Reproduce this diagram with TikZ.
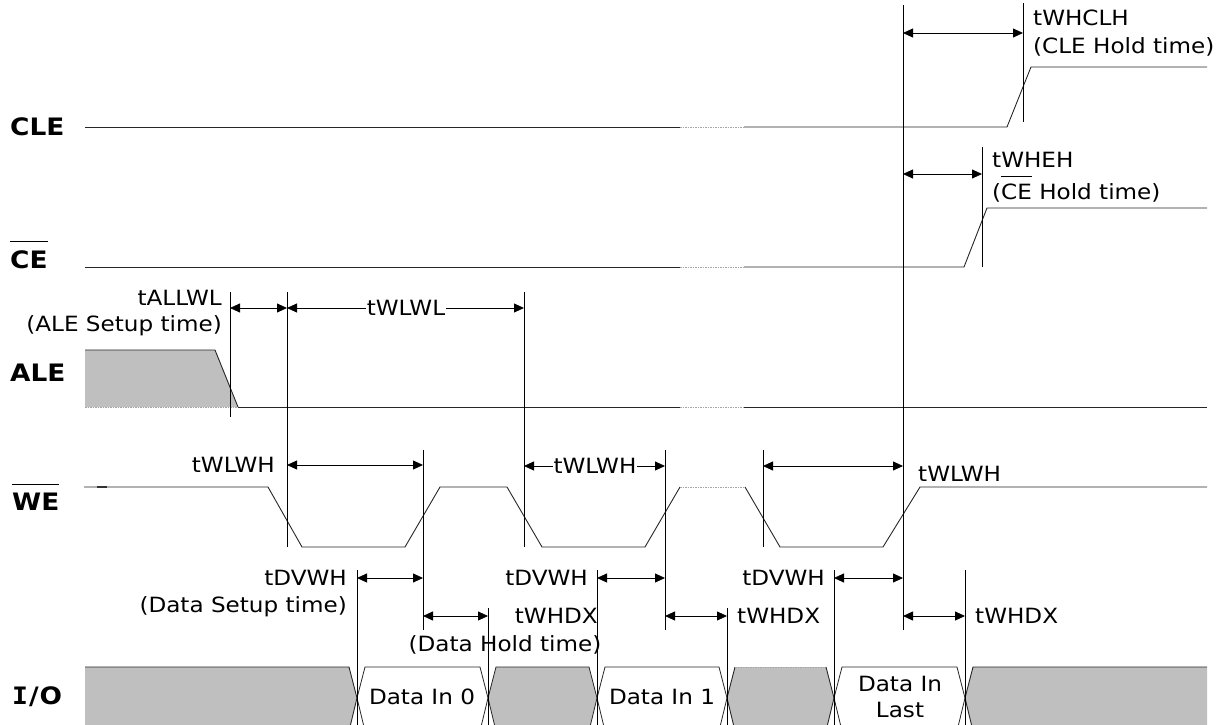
\documentclass[tikz,border=0pt]{standalone}
\usepackage{fontspec}
\setmainfont{DejaVu Sans}[FakeStretch=1.1]
\newfontfamily\monobf{DejaVu Sans Mono Bold}[FakeStretch=1.1]
\usetikzlibrary{arrows.meta}
\newcommand\ovl[2]{\vbox{\hrule height 0.9pt\kern#2\hbox{#1}}}
\begin{document}
\begin{tikzpicture}[x=1pt,y=-1pt,
 sig/.style={line width=0.9pt,draw=black!85},
 brk/.style={line width=0.9pt,draw=black!35,dash pattern=on 1.5pt off 1pt},
 vl/.style={line width=0.9pt,draw=black},
 dim/.style={line width=0.8pt,{Triangle[length=10pt,width=9pt]}-{Triangle[length=10pt,width=9pt]}},
 txt/.style={font=\fontsize{21}{25}\selectfont,inner sep=0pt},
 sigl/.style={font=\fontsize{24}{28}\selectfont\bfseries,inner sep=0pt,anchor=west},
 busg/.style={fill=black!25,draw=black!85,line width=0.8pt},
 busw/.style={fill=white,draw=black!85,line width=0.8pt}]
\useasboundingbox (0,0) rectangle (1224,725);

% ---------- signal names
\node[sigl] (nCLE) at (10,127) {CLE};
\node[sigl] (nCE)  at (10,255) {\ovl{CE}{8pt}};
\node[sigl] (nALE) at (10,373) {ALE};
\node[sigl] (nWE)  at (12,497) {\ovl{WE}{8pt}};
\node[sigl] (nIO)  at (12,697) {{\monobf I}\kern1pt/\kern1pt O};

% ---------- CLE
\draw[sig] (85,127) -- (680,127);
\draw[brk] (680,127) -- (744,127);
\draw[sig] (744,127) -- (1007,127) -- (1031,67) -- (1207,67);

% ---------- CE
\draw[sig] (85,267) -- (680,267);
\draw[brk] (680,267) -- (744,267);
\draw[sig] (744,267) -- (964,267) -- (987,208) -- (1207,208);

% ---------- ALE
\fill[black!25] (85,350) -- (215,350) -- (238,407) -- (85,407) -- cycle;
\draw[sig] (85,350) -- (215,350) -- (238,407);
\draw[brk] (85,407) -- (238,407);
\draw[sig] (238,407) -- (680,407);
\draw[brk] (680,407) -- (744,407);
\draw[sig] (744,407) -- (1207,407);

% ---------- WE
\draw[sig] (84,487) -- (268,487) -- (302,547) -- (405,547) -- (440,487) -- (507,487)
  -- (542,547) -- (645,547) -- (680,487);
\draw[brk] (680,487) -- (745,487);
\draw[sig] (745,487) -- (780,547) -- (883,547) -- (920,487) -- (1207,487);
\draw[line width=1.6pt,black!80] (97,487) -- (107,487);

% ---------- I/O bus
\fill[black!25] (85,667) -- (349,667) -- (357,698) -- (349,731) -- (85,731) -- cycle;
\draw[sig] (85,667) -- (349,667) -- (357,698) -- (349,731);
\draw[busw] (357,698) -- (365,667) -- (480,667) -- (488,698) -- (480,731) -- (365,731) -- cycle;
\draw[busg] (488,698) -- (496,667) -- (589,667) -- (597,698) -- (589,731) -- (496,731) -- cycle;
\draw[busw] (597,698) -- (605,667) -- (719,667) -- (727,698) -- (719,731) -- (605,731) -- cycle;
\fill[black!25] (727,698) -- (735,667) -- (826,667) -- (834,698) -- (826,731) -- (735,731) -- cycle;
\draw[sig] (735,731) -- (727,698) -- (735,667);
\draw[brk] (735,667) -- (826,667);
\draw[sig] (826,667) -- (834,698) -- (826,731);
\draw[busw] (834,698) -- (842,667) -- (957,667) -- (965,698) -- (957,731) -- (842,731) -- cycle;
\fill[black!25] (965,698) -- (973,667) -- (1207,667) -- (1207,731) -- (973,731) -- cycle;
\draw[sig] (973,731) -- (965,698) -- (973,667) -- (1207,667);

\node[txt] (d0) at (422,697) {Data In 0};
\node[txt] (d1) at (662,697) {Data In 1};
\node[txt,align=center] (dl) at (900,697) {Data In\\[1pt]Last};

% ---------- vertical guide lines
\foreach \n/\x/\a/\b in {A/230/292/417, B/287/292/547, C/524/292/547, D/423/450/630,
   E/665/450/630, F/763/450/547, G/903/5/630, H/1023/3/122, I/982/147/267,
   J/357/570/725, K/488/608/725, L/597/570/725, M/727/608/725, N/834/570/725, O/965/570/725}
 {\coordinate (\n t) at (\x,\a); \coordinate (\n b) at (\x,\b); \draw[vl] (\n t) -- (\n b);}

% ---------- dimension arrows
\coordinate (p1a) at (903,33);  \coordinate (p1b) at (1023,33);
\coordinate (p2a) at (903,174); \coordinate (p2b) at (982,174);
\coordinate (p3a) at (230,308); \coordinate (p3b) at (287,308);
\coordinate (p4a) at (287,308); \coordinate (p4b) at (524,308);
\coordinate (p5a) at (287,465); \coordinate (p5b) at (423,465);
\coordinate (p6a) at (524,466); \coordinate (p6b) at (665,466);
\coordinate (p7a) at (763,466); \coordinate (p7b) at (903,466);
\coordinate (p8a) at (357,578); \coordinate (p8b) at (423,578);
\coordinate (p9a) at (423,616); \coordinate (p9b) at (488,616);
\coordinate (q1a) at (597,578); \coordinate (q1b) at (665,578);
\coordinate (q2a) at (665,616); \coordinate (q2b) at (727,616);
\coordinate (q3a) at (834,578); \coordinate (q3b) at (903,578);
\coordinate (q4a) at (903,616); \coordinate (q4b) at (965,616);
\foreach \p in {p1,p2,p3,p4,p5,p6,p7,p8,p9,q1,q2,q3,q4}
  {\draw[dim] (\p a) -- (\p b);}

% ---------- labels
\node[txt,anchor=west] (l1) at (1033,18) {tWHCLH};
\node[txt,anchor=west] (l2) at (1033,47) {(CLE Hold time)};
\node[txt,anchor=west] (l3) at (992,160) {tWHEH};
\node[txt,anchor=west] (l4) at (992,189) {(\ovl{CE}{7pt} Hold time)};
\node[txt,anchor=east] (l5) at (222,298) {tALLWL};
\node[txt,anchor=east] (l6) at (222,326) {(ALE Setup time)};
\node[txt,fill=white,inner xsep=1pt] (l7) at (406,308) {tWLWL};
\node[txt,anchor=east] (l8) at (275,465) {tWLWH};
\node[txt,fill=white,inner xsep=1pt] (l9) at (595,466) {tWLWH};
\node[txt,anchor=west] (l10) at (918,474) {tWLWH};
\node[txt,anchor=east] (l11) at (347,578) {tDVWH};
\node[txt,anchor=east] (l12) at (347,607) {(Data Setup time)};
\node[txt,anchor=east] (l13) at (598,616) {tWHDX};
\node[txt] (l14) at (505,645) {(Data Hold time)};
\node[txt,anchor=east] (l15) at (588,578) {tDVWH};
\node[txt,anchor=west] (l16) at (737,616) {tWHDX};
\node[txt,anchor=east] (l17) at (825,578) {tDVWH};
\node[txt,anchor=west] (l18) at (975,616) {tWHDX};
\end{tikzpicture}
\end{document}
